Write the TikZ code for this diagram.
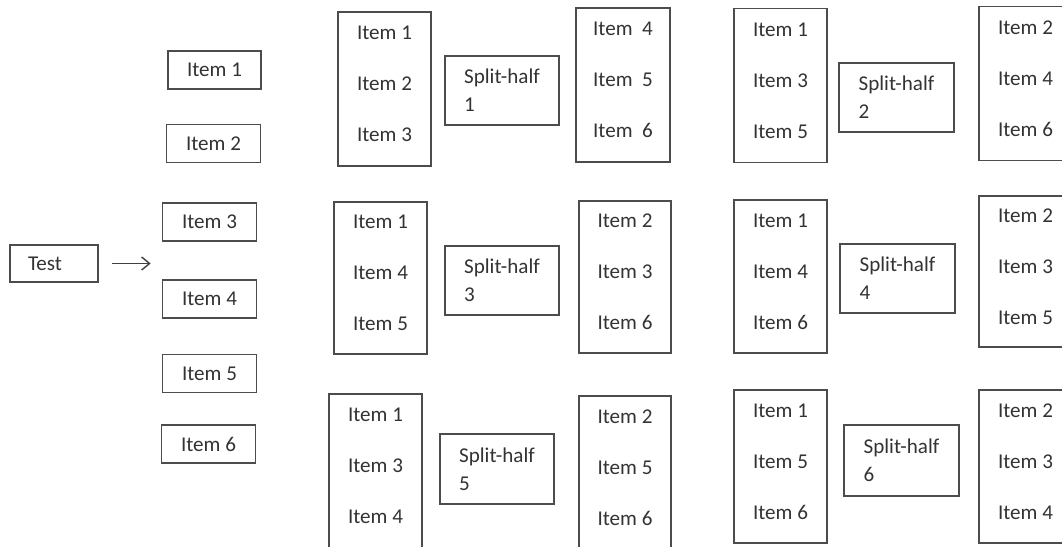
\documentclass[tikz,border=0pt]{standalone}
\usepackage{fontspec}
\setmainfont{Carlito}
\usetikzlibrary{arrows.meta}

\begin{document}
\begin{tikzpicture}[x=0.02cm, y=-0.02cm,
    item/.style={draw=black!70, line width=0.9pt, minimum width=1.88cm, minimum height=0.76cm, inner sep=0pt, font=\fontsize{12}{14}\selectfont, text=black!80},
    half/.style={draw=black!70, line width=0.9pt, minimum width=1.86cm, minimum height=3.08cm, align=left, inner sep=0pt, font=\fontsize{12}{29}\selectfont, text=black!80, text depth=0.2cm},
    split/.style={draw=black!70, line width=0.9pt, minimum width=2.28cm, minimum height=1.38cm, align=left, inner sep=0pt, font=\fontsize{12}{16}\selectfont, text=black!80},
    arr/.style={-{Straight Barb[length=1.6mm, width=2.6mm]}, line width=0.8pt, black!75}
]
\useasboundingbox (0,0) rectangle (1062,547);
\clip (0,0) rectangle (1062,547);

% test and its items
\node[item, minimum width=1.76cm, minimum height=0.74cm, text width=1.04cm, align=left] (test) at (54,263.5) {Test};
\node[item, minimum width=1.86cm] (it1) at (214.5,70) {Item 1};
\node[item] (it2) at (213.5,143.5) {Item 2};
\node[item] (it3) at (209.5,222) {Item 3};
\node[item] (it4) at (209.5,299) {Item 4};
\node[item] (it5) at (209.5,373.5) {Item 5};
\node[item] (it6) at (208.5,444) {Item 6};

\draw[arr, shorten <=0.26cm, shorten >=0.22cm] (test.east) -- (test.east -| it3.west);

% split-half 1 and 2
\node[half] (a1) at (384.5,89) {Item 1\\Item 2\\Item 3};
\node[split] (sh1) at (502,90.5) {Split-half\\1};
\node[half, minimum width=1.88cm] (b1) at (623,85) {Item~ 4\\Item~ 5\\Item~ 6};
\node[half] (a2) at (780.5,85.5) {Item 1\\Item 3\\Item 5};
\node[split, minimum width=2.3cm] (sh2) at (896.5,97.5) {Split-half\\2};
\node[half] (b2) at (1025.5,83.5) {Item 2\\Item 4\\Item 6};

% split-half 3 and 4
\node[half, minimum height=3.04cm] (a3) at (380.5,278) {Item 1\\Item 4\\Item 5};
\node[split] (sh3) at (502,280.5) {Split-half\\3};
\node[half, minimum width=1.84cm, minimum height=3.04cm] (b3) at (625,277) {Item 2\\Item 3\\Item 6};
\node[half, minimum height=3.06cm] (a4) at (780.5,276.5) {Item 1\\Item 4\\Item 6};
\node[split, minimum width=2.3cm] (sh4) at (897.5,278.5) {Split-half\\4};
\node[half, minimum height=3.02cm] (b4) at (1025.5,271.5) {Item 2\\Item 3\\Item 5};

% split-half 5 and 6
\node[half] (a5) at (375.5,471) {Item 1\\Item 3\\Item 4};
\node[split, minimum height=1.4cm] (sh5) at (497,469) {Split-half\\5};
\node[half, minimum width=1.84cm] (b5) at (625,473) {Item 2\\Item 5\\Item 6};
\node[half, minimum height=3.06cm] (a6) at (780.5,466.5) {Item 1\\Item 5\\Item 6};
\node[split, minimum width=2.3cm, minimum height=1.42cm] (sh6) at (901.5,460.5) {Split-half\\6};
\node[half, minimum height=3.06cm] (b6) at (1025.5,466.5) {Item 2\\Item 3\\Item 4};
\end{tikzpicture}
\end{document}
